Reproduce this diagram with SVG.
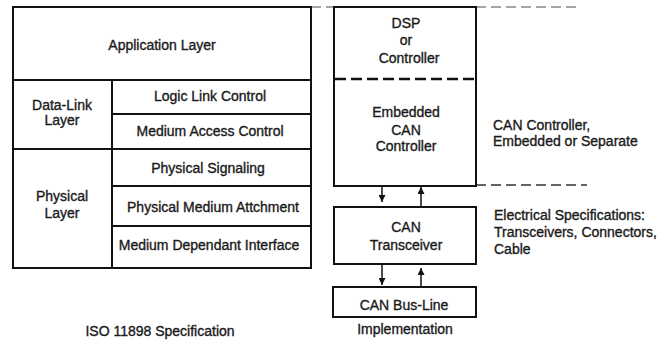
<svg xmlns="http://www.w3.org/2000/svg" width="671" height="344" viewBox="0 0 671 344">
<defs>
<style>
text{font-family:"Liberation Sans",Arial,sans-serif;font-size:14px;fill:#1a1a1a;stroke:#1a1a1a;stroke-width:0.35;}
.c{text-anchor:middle;}
.box{fill:#fff;stroke:#111;stroke-width:2;}
.ln{stroke:#111;stroke-width:2;fill:none;}
.dash{stroke:#333;stroke-width:1.5;stroke-dasharray:10 5;fill:none;}
.dashg{stroke:#888;stroke-width:1.5;stroke-dasharray:10 5;fill:none;}
.dashi{stroke:#111;stroke-width:2.5;stroke-dasharray:11 5;fill:none;}
.arr{stroke:#111;stroke-width:1.5;fill:none;}
</style>
<marker id="ah" viewBox="0 0 10 10" refX="10" refY="5" markerWidth="7" markerHeight="7" markerUnits="userSpaceOnUse" orient="auto">
<path d="M0,0 L10,5 L0,10 Z" fill="#111"/>
</marker>
</defs>
<rect width="671" height="344" fill="#fff"/>

<g id="guides">
<line class="dashg" x1="311" y1="7" x2="576" y2="7"/>
<line class="dash" x1="476" y1="185" x2="587" y2="185"/>
</g>

<g id="iso-stack">
<rect class="box" x="13" y="7" width="298" height="261"/>
<line class="ln" x1="13" y1="80" x2="311" y2="80"/>
<line class="ln" x1="112" y1="80" x2="112" y2="268"/>
<line class="ln" x1="112" y1="114" x2="311" y2="114"/>
<line class="ln" x1="13" y1="149" x2="311" y2="149"/>
<line class="ln" x1="112" y1="186" x2="311" y2="186"/>
<line class="ln" x1="112" y1="226" x2="311" y2="226"/>
</g>
<g id="application-layer"><text class="c" x="162" y="50">Application Layer</text></g>
<g id="data-link-layer"><text class="c" x="62" y="110">Data-Link</text><text class="c" x="62" y="125">Layer</text></g>
<g id="llc"><text class="c" x="210" y="101">Logic Link Control</text></g>
<g id="mac"><text class="c" x="210" y="136">Medium Access Control</text></g>
<g id="physical-layer"><text class="c" x="62" y="201">Physical</text><text class="c" x="62" y="218">Layer</text></g>
<g id="pls"><text class="c" x="208" y="173">Physical Signaling</text></g>
<g id="pma"><text class="c" x="213" y="212">Physical Medium Attchment</text></g>
<g id="mdi"><text class="c" x="209" y="250">Medium Dependant Interface</text></g>
<g id="iso-label"><text class="c" x="160" y="336">ISO 11898 Specification</text></g>

<g id="controller">
<rect class="box" x="334" y="7" width="142" height="179"/>
<line class="dashi" x1="335" y1="79" x2="475" y2="79"/>
<text class="c" x="406" y="28">DSP</text>
<text class="c" x="406" y="45">or</text>
<text class="c" x="409" y="63">Controller</text>
<text class="c" x="406" y="117">Embedded</text>
<text class="c" x="406" y="135">CAN</text>
<text class="c" x="406" y="151">Controller</text>
</g>
<g id="transceiver">
<rect class="box" x="334" y="207" width="142" height="57"/>
<text class="c" x="406" y="232">CAN</text>
<text class="c" x="406" y="250">Transceiver</text>
</g>
<g id="busline">
<rect class="box" x="333" y="287" width="143" height="30"/>
<text class="c" x="404" y="310">CAN Bus-Line</text>
</g>
<g id="implementation-label"><text class="c" x="405" y="334">Implementation</text></g>

<g id="connectors">
<line class="arr" x1="382" y1="186" x2="382" y2="202" marker-end="url(#ah)"/>
<line class="arr" x1="421" y1="207" x2="421" y2="187" marker-end="url(#ah)"/>
<line class="arr" x1="382" y1="264" x2="382" y2="285" marker-end="url(#ah)"/>
<line class="arr" x1="421" y1="287" x2="421" y2="268" marker-end="url(#ah)"/>
</g>

<g id="notes">
<text x="493" y="130">CAN Controller,</text>
<text x="493" y="146">Embedded or Separate</text>
<text x="494" y="220">Electrical Specifications:</text>
<text x="494" y="237">Transceivers, Connectors,</text>
<text x="494" y="254">Cable</text>
</g>
</svg>
